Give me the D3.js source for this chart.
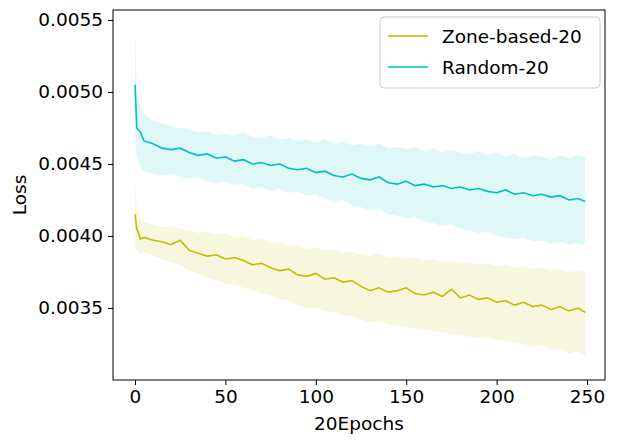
<!DOCTYPE html>
<html><head><meta charset="utf-8">
<script src="https://cdn.jsdelivr.net/npm/d3@7"></script>
<style>body{margin:0;background:#fff}text{font-family:"DejaVu Sans",sans-serif}</style>
</head><body><svg id="c" width="618" height="442"></svg>
<script>
const epochs = [0,1,3,5,10,15,20,25,30,35,40,45,50,55,60,65,70,75,80,85,90,95,100,105,110,115,120,125,130,135,140,145,150,155,160,165,170,175,180,185,190,195,200,205,210,215,220,225,230,235,240,245,249];

const randomMean = [.00505,.00475,.00472,.00466,.00464,.00461,.00460,.00461,.00458,.00456,.00457,.00454,.00455,.00452,.00453,.00450,.00451,.00449,.00450,.00447,.00446,.00447,.00444,.00445,.00442,.00441,.00443,.00440,.00439,.00441,.00437,.00436,.00438,.00435,.00436,.00434,.00435,.00433,.00434,.00432,.00433,.00431,.00430,.00432,.00429,.00430,.00428,.00429,.00427,.00428,.00425,.00426,.00424];
const randomUpper = [.00545,.0050,.0049,.00485,.0048,.00478,.00476,.00475,.00474,.00472,.00473,.00470,.00471,.00470,.00472,.00469,.00468,.00470,.00467,.00468,.00466,.00467,.00465,.00467,.00464,.00466,.00463,.00464,.00462,.00464,.00461,.00462,.00460,.00462,.00459,.00461,.00458,.00460,.00458,.00457,.00459,.00456,.00458,.00455,.00457,.00454,.00456,.00455,.00453,.00456,.00454,.00456,.00455];
const randomLower = [.0047,.00455,.00448,.00445,.00443,.00442,.00443,.00441,.00440,.00441,.00438,.00437,.00438,.00435,.00436,.00433,.00434,.00431,.00433,.00430,.00431,.00428,.00429,.00426,.00424,.00425,.00421,.00420,.00418,.00419,.00415,.00414,.00412,.00413,.00410,.00409,.00407,.00408,.00405,.00404,.00402,.00403,.00400,.00399,.00398,.00399,.00396,.00397,.00395,.00396,.00394,.00395,.00394];

const zoneMean = [.00415,.00405,.00398,.00399,.00397,.00396,.00394,.00397,.00390,.00388,.00386,.00387,.00384,.00385,.00383,.00380,.00381,.00378,.00376,.00377,.00373,.00372,.00374,.00370,.00371,.00368,.00369,.00365,.00362,.00364,.00361,.00362,.00364,.00360,.00359,.00361,.00358,.00363,.00357,.00359,.00356,.00357,.00354,.00355,.00352,.00354,.00351,.00352,.00349,.00351,.00348,.00350,.00347];
const zoneUpper = [.00437,.0042,.00412,.00410,.00408,.00406,.00407,.00405,.00404,.00402,.00403,.00401,.00402,.00399,.00400,.00397,.00398,.00395,.00396,.00393,.00394,.00391,.00392,.00390,.00391,.00388,.00389,.00387,.00386,.00388,.00385,.00386,.00384,.00385,.00383,.00384,.00382,.00383,.00381,.00382,.00380,.00381,.00379,.00380,.00378,.00379,.00377,.00378,.00376,.00377,.00375,.00376,.00375];
const zoneLower = [.00392,.00390,.00388,.00389,.00386,.00384,.00382,.00380,.00376,.00374,.00371,.00369,.00367,.00366,.00364,.00362,.00360,.00359,.00356,.00355,.00352,.00350,.00350,.00348,.00347,.00345,.00344,.00342,.00340,.00341,.00339,.00338,.00337,.00336,.00335,.00334,.00333,.00332,.00331,.00330,.00329,.00330,.00328,.00327,.00326,.00325,.00323,.00324,.00321,.00322,.00318,.00320,.00317];

const xTicks = [0,50,100,150,200,250];
const yTicks = [0.0035,0.0040,0.0045,0.0050,0.0055];

const series = [
  {name: "Zone-based-20", color: "#bfbf00", mean: zoneMean, lo: zoneLower, hi: zoneUpper},
  {name: "Random-20", color: "#00bfbf", mean: randomMean, lo: randomLower, hi: randomUpper}
];

const L = 113, R = 605, T = 10, B = 380;
const FS = 18.5;
const svg = d3.select("#c");
const x = d3.scaleLinear().domain([0, 250]).range([135, 587]);
const y = d3.scaleLinear().domain([0.0035, 0.0055]).range([308, 20]);

const area = d3.area().x((d, i) => x(epochs[i])).y0(d => y(d[0])).y1(d => y(d[1]));
const line = d3.line().x((d, i) => x(epochs[i])).y(d => y(d));

series.forEach(s => {
  svg.append("path").datum(s.lo.map((v, i) => [v, s.hi[i]]))
    .attr("d", area).attr("fill", s.color).attr("fill-opacity", 0.12);
});
series.forEach(s => {
  svg.append("path").datum(s.mean).attr("d", line)
    .attr("fill", "none").attr("stroke", s.color).attr("stroke-width", 1.6);
});

svg.append("g").attr("transform", `translate(0,${B})`)
  .call(d3.axisBottom(x).tickValues(xTicks).tickSize(5).tickPadding(5))
  .call(g => g.select(".domain").remove());
svg.append("g").attr("transform", `translate(${L},0)`)
  .call(d3.axisLeft(y).tickValues(yTicks).tickFormat(d3.format(".4f")).tickSize(5).tickPadding(5))
  .call(g => g.select(".domain").remove());
svg.selectAll(".tick text").attr("font-size", FS).attr("fill", "#000").style("font-family", "DejaVu Sans");
svg.selectAll(".tick line").attr("stroke", "#000");

svg.append("rect").attr("x", L).attr("y", T).attr("width", R - L).attr("height", B - T)
  .attr("fill", "none").attr("stroke", "#000").attr("stroke-width", 1);

svg.append("text").attr("x", (L + R) / 2).attr("y", 430).attr("text-anchor", "middle")
  .attr("font-size", FS).text("20Epochs");
svg.append("text").attr("transform", `translate(26,${(T + B) / 2}) rotate(-90)`)
  .attr("text-anchor", "middle").attr("font-size", FS).text("Loss");

const lg = svg.append("g").attr("transform", "translate(380,17)");
lg.append("rect").attr("width", 220).attr("height", 71).attr("rx", 4)
  .attr("fill", "#fff").attr("fill-opacity", 0.8).attr("stroke", "#ccc");
series.forEach((s, i) => {
  const yy = 19 + i * 31;
  lg.append("line").attr("x1", 8).attr("x2", 48).attr("y1", yy).attr("y2", yy)
    .attr("stroke", s.color).attr("stroke-width", 1.6);
  lg.append("text").attr("x", 62).attr("y", yy + 7).attr("font-size", FS).text(s.name);
});
</script></body></html>
